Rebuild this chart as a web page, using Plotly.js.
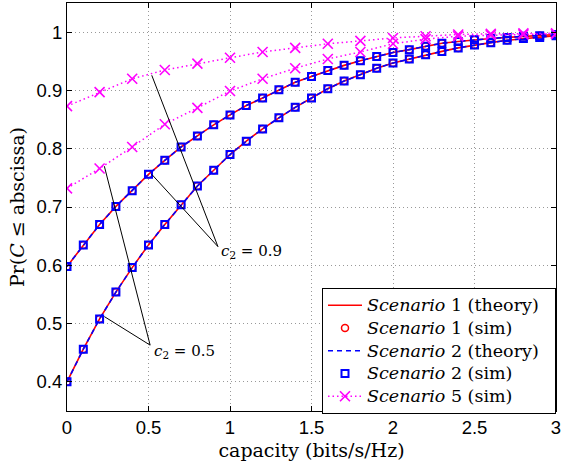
<!DOCTYPE html>
<html>
<head>
<meta charset="utf-8">
<script src="https://cdn.plot.ly/plotly-3.0.1.min.js"></script>
<style>html,body{margin:0;padding:0;background:#fff;}#chart{width:561px;height:463px;}</style>
</head>
<body>
<div id="chart"></div>
<script>
// capacity grid (bits/s/Hz) for theory curves and Scenario 1/2 sims
const capacity = [0,0.1,0.2,0.3,0.4,0.5,0.6,0.7,0.8,0.9,1.0,1.1,1.2,1.3,1.4,1.5,1.6,1.7,1.8,1.9,2.0,2.1,2.2,2.3,2.4,2.5,2.6,2.7,2.8,2.9,3.0];
// c2 = 0.9
const cdfC09 = [0.598,0.635,0.670,0.701,0.728,0.756,0.780,0.803,0.822,0.841,0.858,0.874,0.887,0.901,0.914,0.924,0.934,0.943,0.951,0.958,0.965,0.970,0.976,0.981,0.984,0.987,0.989,0.991,0.993,0.994,0.996];
// c2 = 0.5
const cdfC05 = [0.400,0.456,0.508,0.554,0.596,0.635,0.670,0.704,0.736,0.763,0.790,0.813,0.834,0.853,0.871,0.887,0.903,0.916,0.927,0.938,0.947,0.954,0.961,0.967,0.973,0.978,0.982,0.986,0.989,0.991,0.994];
// Scenario 5 sims
const capacity5 = [0,0.2,0.4,0.6,0.8,1.0,1.2,1.4,1.6,1.8,2.0,2.2,2.4,2.6,2.8,3.0];
const s5C09 = [0.873,0.897,0.920,0.935,0.946,0.956,0.966,0.973,0.980,0.985,0.990,0.993,0.996,0.997,0.998,0.998];
const s5C05 = [0.732,0.766,0.803,0.842,0.870,0.899,0.920,0.938,0.954,0.966,0.980,0.988,0.993,0.995,0.996,0.997];

const xTicks = [0,0.5,1,1.5,2,2.5,3];
const xTickText = ["0","0.5","1","1.5","2","2.5","3"];
const yTicks = [0.4,0.5,0.6,0.7,0.8,0.9,1];
const yTickText = ["0.4","0.5","0.6","0.7","0.8","0.9","1"];

const legendNames = [
  "<i>Scenario</i> 1 (theory)",
  "<i>Scenario</i> 1 (sim)",
  "<i>Scenario</i> 2 (theory)",
  "<i>Scenario</i> 2 (sim)",
  "<i>Scenario</i> 5 (sim)"
];
const big = s => '<span style="font-size:17.5px">' + s + '&nbsp;&nbsp;</span>';

const join = (a, b) => a.concat([null], b);
const xx = join(capacity, capacity);
const yy = join(cdfC09, cdfC05);
const xx5 = join(capacity5, capacity5);
const yy5 = join(s5C09, s5C05);

const traces = [
  {x: xx, y: yy, mode: 'lines', name: big(legendNames[0]), line: {color: '#ff0000', width: 1.6}, connectgaps: false},
  {x: xx, y: yy, mode: 'markers', name: big(legendNames[1]), marker: {symbol: 'circle-open', size: 7, color: '#ff0000', line: {width: 1.5}}},
  {x: xx, y: yy, mode: 'lines', name: big(legendNames[2]), line: {color: '#0000ff', width: 1.6, dash: '5px,4px'}, connectgaps: false},
  {x: xx, y: yy, mode: 'markers', name: big(legendNames[3]), marker: {symbol: 'square-open', size: 7, color: '#0000ff', line: {width: 2}}},
  {x: xx5, y: yy5, mode: 'lines+markers', name: big(legendNames[4]), line: {color: '#ff00ff', width: 1.5, dash: '1.5px,3px'}, marker: {symbol: 'x-thin-open', size: 10, color: '#ff00ff', line: {width: 1.6, color: '#ff00ff'}}, connectgaps: false}
];

const ser = 'DejaVu Serif, Liberation Serif, serif';
const sans = 'Liberation Sans, Arial, sans-serif';

const lineStyle = {color: '#000', width: 1};
const shapes = [
  {type: 'line', xref: 'x', yref: 'y', x0: 0.52, y0: 0.926, x1: 0.926, y1: 0.632, line: lineStyle},
  {type: 'line', xref: 'x', yref: 'y', x0: 0.52, y0: 0.756, x1: 0.926, y1: 0.632, line: lineStyle},
  {type: 'line', xref: 'x', yref: 'y', x0: 0.229, y0: 0.770, x1: 0.51, y1: 0.463, line: lineStyle},
  {type: 'line', xref: 'x', yref: 'y', x0: 0.229, y0: 0.512, x1: 0.51, y1: 0.463, line: lineStyle}
];

const annotations = [
  {x: 0.93, y: 0.624, xref: 'x', yref: 'y', xanchor: 'left', yanchor: 'middle', showarrow: false, text: '<i>c</i><sub>2</sub> = 0.9', font: {family: ser, size: 15, color: '#000'}},
  {x: 0.52, y: 0.452, xref: 'x', yref: 'y', xanchor: 'left', yanchor: 'middle', showarrow: false, text: '<i>c</i><sub>2</sub> = 0.5', font: {family: ser, size: 15, color: '#000'}}
];

const axisCommon = {
  showline: true, linecolor: '#000', linewidth: 1, mirror: 'ticks',
  ticks: 'inside', ticklen: 5, tickcolor: '#000', tickwidth: 1,
  showgrid: true, gridcolor: '#999', griddash: '1px,3px', gridwidth: 1,
  zeroline: false, ticklabeloverflow: 'allow',
  tickfont: {family: sans, size: 18.5, color: '#000'}
};

const layout = {
  width: 561, height: 463,
  margin: {l: 67, r: 5, t: 3, b: 52, pad: 0},
  paper_bgcolor: '#fff', plot_bgcolor: '#fff',
  showlegend: true,
  xaxis: Object.assign({}, axisCommon, {
    range: [0, 3], tickvals: xTicks, ticktext: xTickText,
    title: {text: 'capacity (bits/s/Hz)', font: {family: ser, size: 19, color: '#000'}, standoff: 6}
  }),
  yaxis: Object.assign({}, axisCommon, {
    range: [0.35, 1.05], tickvals: yTicks, ticktext: yTickText,
    title: {text: 'Pr(<i>C</i> ≤ abscissa)', font: {family: ser, size: 19, color: '#000'}, standoff: 6}
  }),
  legend: {
    x: 1, y: -0.007, xanchor: 'right', yanchor: 'bottom',
    bgcolor: '#fff', bordercolor: '#000', borderwidth: 1,
    font: {family: ser, size: 15.2, color: '#000'},
    tracegroupgap: 0, itemwidth: 34
  },
  shapes: shapes,
  annotations: annotations
};

Plotly.newPlot('chart', traces, layout, {displayModeBar: false, staticPlot: true});
</script>
</body>
</html>
